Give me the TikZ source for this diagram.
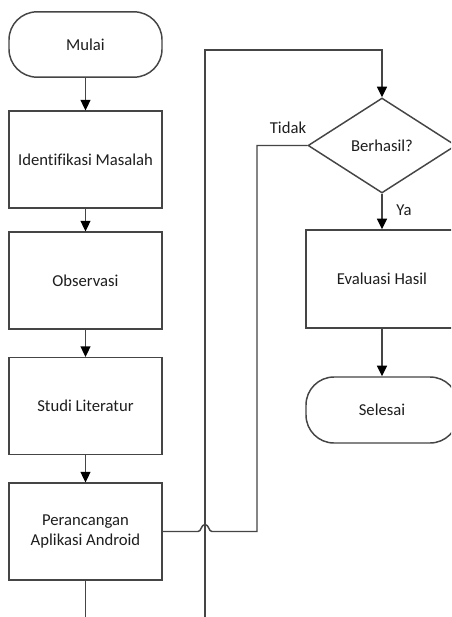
\documentclass[tikz,border=0pt]{standalone}
\usepackage{fontspec}
\setmainfont{Carlito}[Ligatures=NoCommon]
\usetikzlibrary{shapes.geometric,arrows.meta}
\definecolor{linec}{HTML}{454545}
\definecolor{txtc}{HTML}{1E1E1E}
\begin{document}
\begin{tikzpicture}[x=0.75pt,y=-0.75pt,
  base/.style={draw=linec, line width=1.1pt, text=txtc, font=\fontsize{12.5}{15}\selectfont, align=center, inner sep=0pt},
  term/.style={base, rectangle, rounded corners=21pt, minimum width=114.75pt, minimum height=49pt},
  proc/.style={base, rectangle, minimum width=114.75pt, minimum height=72.5pt},
  decision/.style={base, diamond, minimum width=111pt, minimum height=71.25pt},
  line/.style={draw=linec, line width=1.1pt},
  arr/.style={line, -{Triangle[width=7.5pt,length=8pt,color=black]}},
  lbl/.style={text=txtc, font=\fontsize{12.5}{15}\selectfont, inner sep=0pt}]
\useasboundingbox (0,0) rectangle (451,617);
\clip (0,0) rectangle (451,617);
\fill[white] (0,0) rectangle (451,617);

\node[term] (mulai) at (85.5,44.5) {Mulai};
\node[proc] (ident) at (85.5,159.5) {Identifikasi Masalah};
\node[proc] (obs) at (85.5,280.5) {Observasi};
\node[proc] (studi) at (85.5,406) {Studi Literatur};
\node[proc] (peran) at (85.5,531.5) {Perancangan\\Aplikasi Android};

\node[decision] (diam) at (382,145.5) {Berhasil?};
\node[proc, minimum width=114pt, minimum height=73.5pt] (eval) at (382,279) {Evaluasi Hasil};
\node[term, minimum width=114pt, minimum height=49.5pt] (sel) at (382,410) {Selesai};

\coordinate (pbot) at (85.5,617);
\coordinate (loopbot) at (205,617);
\coordinate (looptop) at (205,50);

\draw[arr] (mulai) -- (ident);
\draw[arr] (ident) -- (obs);
\draw[arr] (obs) -- (studi);
\draw[arr] (studi) -- (peran);
\draw[line] (peran) -- (pbot);

\draw[arr] (loopbot) -- (looptop) -| (diam.north);
\draw[arr] (diam) -- (eval);
\draw[arr] (eval) -- (sel);

\draw[line] (diam.west) -| (257,531.5) -- (212,531.5)
  .. controls (208.5,531.5) and (209,524.5) .. (205,524.5)
  .. controls (201,524.5) and (201.5,531.5) .. (198,531.5) -- (peran.east);

\node[lbl] (tidak) at (288,128) {Tidak};
\node[lbl] (ya) at (404,210) {Ya};
\end{tikzpicture}
\end{document}
